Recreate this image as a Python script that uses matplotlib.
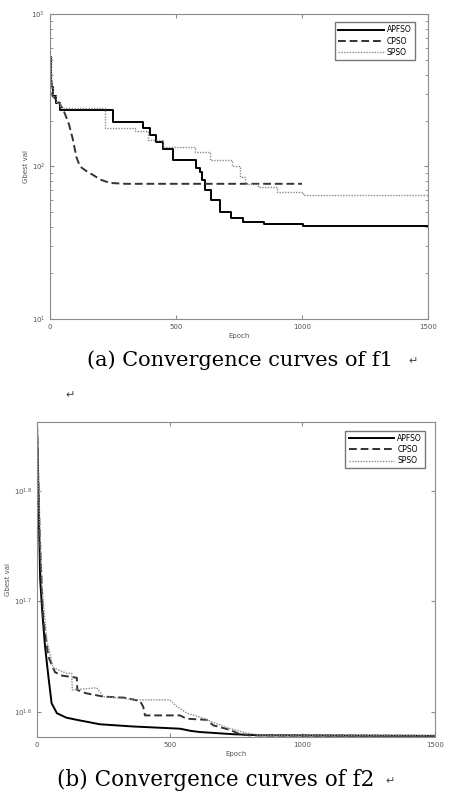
import matplotlib
matplotlib.use("Agg")
import matplotlib.pyplot as plt
from matplotlib.ticker import FixedLocator, FixedFormatter, NullFormatter

# ---- f1 data (epoch, Gbest val) ----
f1_apfso_x = [0, 5, 12, 25, 40, 238, 250, 345, 370, 395, 420, 450, 488, 556, 580, 595, 605, 615, 640, 675, 720, 766, 850, 1004, 1500]
f1_apfso_y = [520, 330, 290, 260, 234, 234, 196, 196, 180, 160, 145, 130, 110, 110, 98, 92, 81, 70, 60, 50, 46, 43, 42, 41, 41]

f1_cpso_x = [0, 10, 30, 50, 60, 75, 91, 105, 119, 150, 171, 200, 238, 300, 1000]
f1_cpso_y = [520, 290, 270, 240, 220, 190, 150, 115, 100, 92, 88, 82, 78, 77, 77]

f1_spso_x = [0, 5, 12, 25, 40, 200, 218, 337, 390, 448, 575, 635, 706, 722, 754, 774, 825, 900, 1004, 1500]
f1_spso_y = [520, 330, 290, 260, 242, 242, 179, 170, 150, 134, 125, 110, 110, 100, 85, 77, 73, 68, 65, 64]

# ---- f2 data (epoch, log10 Gbest val) ----
f2_apfso_x = [0, 5, 12, 20, 30, 43, 55, 75, 110, 150, 237, 362, 539, 580, 614, 740, 850, 1500]
f2_apfso_l = [1.86, 1.80, 1.72, 1.69, 1.66, 1.632, 1.608, 1.599, 1.595, 1.593, 1.589, 1.587, 1.585, 1.583, 1.582, 1.580, 1.579, 1.5785]

f2_cpso_x = [0, 10, 20, 24, 43, 68, 93, 150, 152, 185, 250, 330, 388, 400, 407, 539, 564, 640, 665, 727, 765, 800, 1500]
f2_cpso_l = [1.86, 1.76, 1.70, 1.683, 1.650, 1.636, 1.633, 1.631, 1.620, 1.617, 1.614, 1.613, 1.610, 1.605, 1.597, 1.597, 1.594, 1.593, 1.588, 1.584, 1.580, 1.579, 1.5785]

f2_spso_x = [0, 10, 20, 37, 61, 112, 131, 133, 225, 250, 388, 501, 527, 565, 620, 715, 790, 850, 1500]
f2_spso_l = [1.86, 1.77, 1.71, 1.665, 1.640, 1.635, 1.635, 1.620, 1.622, 1.614, 1.611, 1.611, 1.605, 1.599, 1.595, 1.586, 1.581, 1.579, 1.5785]

labels = ["APFSO", "CPSO", "SPSO"]
styles = [dict(color="black", ls="-", lw=1.4),
          dict(color="#333333", ls=(0, (4, 2)), lw=1.4),
          dict(color="#8a8a8a", ls=(0, (1, 1)), lw=1.0)]

plt.rcParams["font.family"] = ["DejaVu Sans"]
fig = plt.figure(figsize=(4.52, 7.96), dpi=100)


def style_axes(ax):
    for s in ax.spines.values():
        s.set_color("#8c8c8c")
        s.set_linewidth(0.8)
    ax.tick_params(which="both", direction="in", top=True, right=True,
                   colors="#8c8c8c", labelcolor="#555555", labelsize=5, length=3)
    ax.tick_params(which="minor", length=2)
    ax.set_xlim(0, 1500)
    ax.set_xticks([0, 500, 1000, 1500])
    ax.set_xlabel("Epoch", fontsize=5, color="#555555", labelpad=2)
    ax.set_ylabel("Gbest val", fontsize=5, color="#555555", labelpad=2)


def add_legend(ax, anchor):
    ax.legend(loc="upper right", bbox_to_anchor=anchor, fontsize=5.5, frameon=True,
              fancybox=False, edgecolor="#555555", handlelength=6, borderpad=0.4,
              labelspacing=0.3, handletextpad=0.4)


# ---- top: f1 ----
ax1 = fig.add_axes([50 / 452, 1 - 319 / 796, 378 / 452, 305 / 796])
ax1.plot(f1_apfso_x, f1_apfso_y, drawstyle="steps-post", label=labels[0], **styles[0])
ax1.plot(f1_cpso_x, f1_cpso_y, label=labels[1], **styles[1])
ax1.plot(f1_spso_x, f1_spso_y, drawstyle="steps-post", label=labels[2], **styles[2])
ax1.set_yscale("log")
ax1.set_ylim(10, 1000)
style_axes(ax1)
add_legend(ax1, (0.975, 0.985))

# ---- bottom: f2 ----
ax2 = fig.add_axes([37 / 452, 1 - 737 / 796, 398 / 452, 315 / 796])
for xs, ls_, lab, st in [(f2_apfso_x, f2_apfso_l, labels[0], styles[0]),
                         (f2_cpso_x, f2_cpso_l, labels[1], styles[1]),
                         (f2_spso_x, f2_spso_l, labels[2], styles[2])]:
    ax2.plot(xs, [10 ** v for v in ls_], label=lab, **st)
ax2.set_yscale("log")
ax2.set_ylim(10 ** 1.5775, 10 ** 1.862)
ax2.yaxis.set_major_locator(FixedLocator([10 ** 1.6, 10 ** 1.7, 10 ** 1.8]))
ax2.yaxis.set_major_formatter(FixedFormatter([r"$10^{1.6}$", r"$10^{1.7}$", r"$10^{1.8}$"]))
ax2.yaxis.set_minor_locator(FixedLocator([]))
ax2.yaxis.set_minor_formatter(NullFormatter())
style_axes(ax2)
add_legend(ax2, (0.985, 0.985))

# ---- captions ----
serif = ["DejaVu Serif"]
fig.text(87 / 452, 1 - 360 / 796, "(a) Convergence curves of f1", ha="left", va="center",
         fontsize=15, family=serif)
fig.text(413 / 452, 1 - 361 / 796, "\u21b5", ha="center", va="center", fontsize=8,
         family=["DejaVu Sans"], color="#444444")
fig.text(70 / 452, 1 - 395 / 796, "\u21b5", ha="center", va="center", fontsize=8,
         family=["DejaVu Sans"], color="#444444")
fig.text(57 / 452, 1 - 780 / 796, "(b) Convergence curves of f2", ha="left", va="center",
         fontsize=15.5, family=serif)
fig.text(390 / 452, 1 - 781 / 796, "\u21b5", ha="center", va="center", fontsize=8,
         family=["DejaVu Sans"], color="#444444")

fig.savefig("out.png", dpi=100)
